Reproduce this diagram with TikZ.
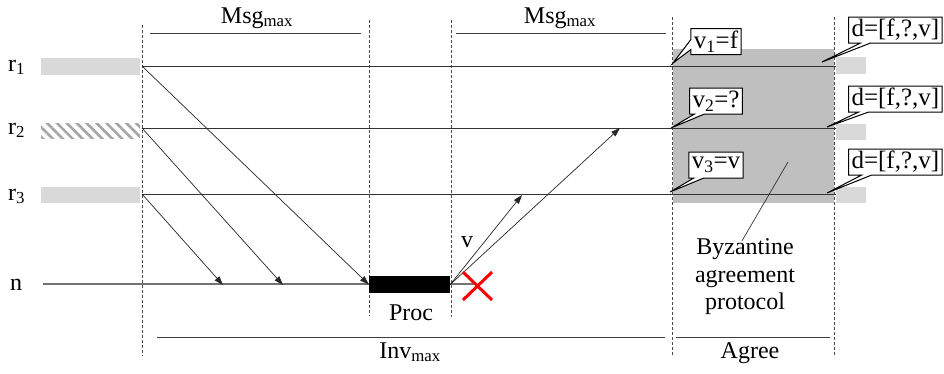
\documentclass[tikz,border=0pt]{standalone}
\usepackage{fontspec}
\setmainfont{Liberation Serif}
\usetikzlibrary{shapes.callouts,arrows.meta,patterns.meta}
\definecolor{barL}{HTML}{D9D9D9}
\definecolor{barD}{HTML}{BFBFBF}
\tikzset{
  every node/.style={font=\fontsize{24}{27.5}\selectfont, inner sep=0pt},
  timeline/.style={line width=0.7pt, black!80},
  guide/.style={line width=0.6pt, black!70, dash pattern=on 3pt off 2pt},
  msgarrow/.style={line width=0.7pt, black!85, -{Triangle[length=9pt,width=6pt]}},
  span/.style={line width=0.9pt, black!75},
  lbl/.style={anchor=base},
  bubble/.style={rectangle callout, draw=black, line width=1pt, fill=white, inner xsep=3pt, inner ysep=1pt, minimum height=26pt, callout pointer width=10pt, font=\fontsize{25}{28}\selectfont},
}
\begin{document}
\begin{tikzpicture}[x=1pt,y=-1pt]
\useasboundingbox (0,0) rectangle (944,373);
% agreement region
\fill[barD] (673,49) rectangle (834,203);
% left bars
\fill[barL] (41,58) rectangle (140,75);
\fill[pattern={Lines[angle=-45,distance=7pt,line width=2.6pt]}, pattern color=black!35] (41,123) rectangle (140,138);
\fill[barL] (41,187) rectangle (140,203);
% right bars
\fill[barL] (836,57) rectangle (866,74);
\fill[barL] (836,124) rectangle (866,140);
\fill[barL] (836,187) rectangle (866,203);
% guides
\draw[guide] (142,25) -- (142,356);
\draw[guide] (369,20) -- (369,316);
\draw[guide] (451,20) -- (451,317);
\draw[guide] (672,17) -- (672,356);
\draw[guide] (834,17) -- (834,357);
% labels
\node[lbl,anchor=base west] (lr1) at (8,71) {r\textsubscript{1}};
\node[lbl,anchor=base west] (lr2) at (8,134) {r\textsubscript{2}};
\node[lbl,anchor=base west] (lr3) at (8,200) {r\textsubscript{3}};
\node[lbl,anchor=base west] (ln) at (10,290) {n};
% timelines
\coordinate (s1) at (142,66);
\coordinate (s2) at (142,128);
\coordinate (s3) at (142,194);
\coordinate (e1) at (836,66);
\coordinate (e2) at (836,128);
\coordinate (e3) at (836,194);
\coordinate (n0) at (43,284);
\coordinate (n1) at (475,284);
\draw[timeline] (s1) -- (e1);
\draw[timeline] (s2) -- (e2);
\draw[timeline] (s3) -- (e3);
\draw[line width=1.2pt, black!55] (n0) -- (n1);
% processing box
\node[fill=black, minimum width=81pt, minimum height=17pt] (proc) at (409.5,284.5) {};
\node[lbl] (proclbl) at (411,320) {Proc};
% incoming messages
\coordinate (t2) at (283,285);
\coordinate (t3) at (223,285);
\draw[msgarrow] (s1) -- (proc.west);
\draw[msgarrow] (s2) -- (t2);
\draw[msgarrow] (s3) -- (t3);
% outgoing
\coordinate (o3) at (522,195);
\coordinate (o2) at (620,128);
\draw[msgarrow] (proc.east) -- (o3);
\draw[msgarrow] (proc.east) -- (o2);
\node[lbl] (vlbl) at (467,247) {v};
% crash
\coordinate (xa) at (463,272);
\coordinate (xb) at (492,300);
\coordinate (xc) at (463,300);
\coordinate (xd) at (492,272);
\draw[red, line width=3pt] (xa) -- (xb);
\draw[red, line width=3pt] (xc) -- (xd);
% spans
\coordinate (m1a) at (150,33); \coordinate (m1b) at (361,33);
\coordinate (m2a) at (456,33); \coordinate (m2b) at (666,33);
\coordinate (ia) at (157,337); \coordinate (ib) at (665,337);
\coordinate (aa) at (676,337); \coordinate (ab) at (830,337);
\draw[span] (m1a) -- (m1b);
\draw[span] (m2a) -- (m2b);
\draw[span] (ia) -- (ib);
\draw[span] (aa) -- (ab);
\node[lbl] (msg1) at (257,23) {Msg\textsubscript{max}};
\node[lbl] (msg2) at (560,23) {Msg\textsubscript{max}};
\node[lbl] (inv) at (410,358) {Inv\textsubscript{max}};
\node[lbl] (agree) at (750,358) {Agree};
% byzantine label
\node[align=center, anchor=center] (byz) at (745,277) {Byzantine\\agreement\\protocol};
\coordinate (bz) at (788,162);
\draw[line width=0.7pt, black!80] (byz.north) ++(-3,2) -- (bz);
% callouts
\node[bubble, callout absolute pointer={(673,63)}] (v1) at (716,41.5) {v\textsubscript{1}=f};
\node[bubble, callout absolute pointer={(671,128)}] (v2) at (716,101) {v\textsubscript{2}=?};
\node[bubble, callout absolute pointer={(670,192)}] (v3) at (716,165) {v\textsubscript{3}=v};
\node[bubble, anchor=west, callout absolute pointer={(822,62)}] (d1) at (848,30) {d=[f,?,v]};
\node[bubble, anchor=west, callout absolute pointer={(827,127)}] (d2) at (848,99) {d=[f,?,v]};
\node[bubble, anchor=west, callout absolute pointer={(827,193)}] (d3) at (848,162) {d=[f,?,v]};
\end{tikzpicture}
\end{document}
